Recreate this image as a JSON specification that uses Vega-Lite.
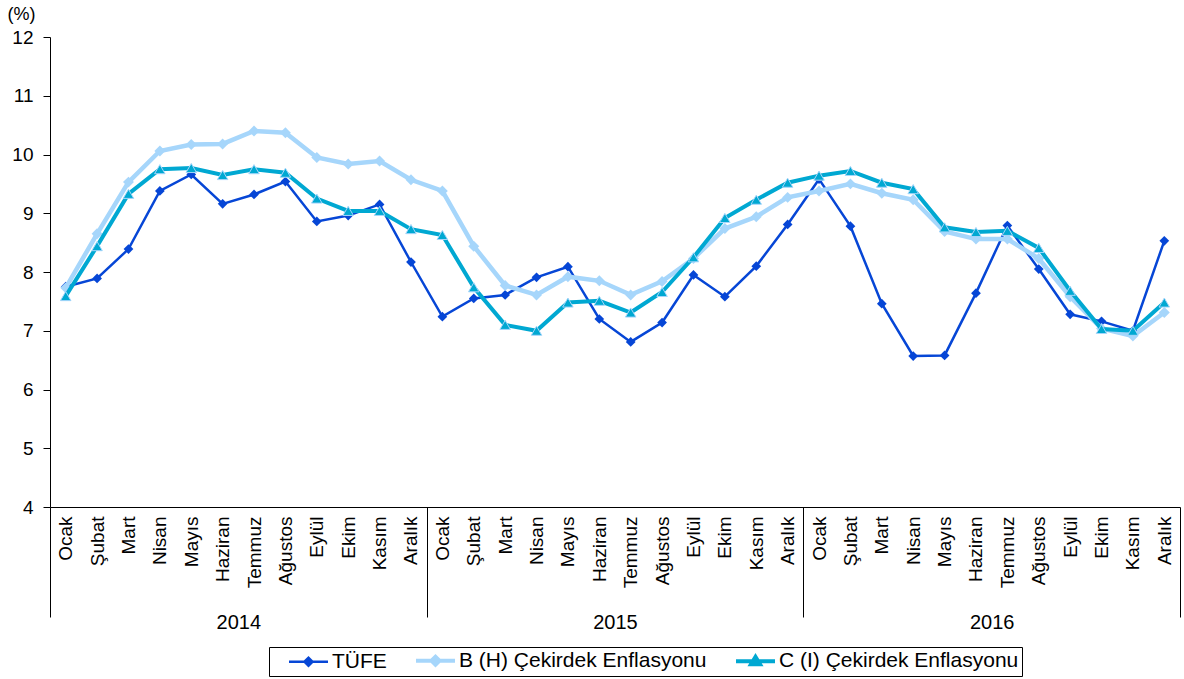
{
  "$schema": "https://vega.github.io/schema/vega-lite/v6.json",
  "width": 1130,
  "height": 470,
  "autosize": {"type": "none"},
  "padding": {"left": 50, "top": 37, "right": 4, "bottom": 172},
  "background": "white",
  "config": {
    "view": {"stroke": null},
    "font": "Liberation Sans",
    "axis": {"labelFont": "Liberation Sans", "titleFont": "Liberation Sans", "labelColor": "black", "titleColor": "black", "domainColor": "black", "tickColor": "black", "grid": false}
  },
  "layer": [
    {
      "data": {
        "values": [
          {"t": "2014-01", "s": "TÜFE", "v": 7.75}, {"t": "2014-02", "s": "TÜFE", "v": 7.89}, {"t": "2014-03", "s": "TÜFE", "v": 8.39}, {"t": "2014-04", "s": "TÜFE", "v": 9.38}, {"t": "2014-05", "s": "TÜFE", "v": 9.66}, {"t": "2014-06", "s": "TÜFE", "v": 9.16}, {"t": "2014-07", "s": "TÜFE", "v": 9.32}, {"t": "2014-08", "s": "TÜFE", "v": 9.54}, {"t": "2014-09", "s": "TÜFE", "v": 8.86}, {"t": "2014-10", "s": "TÜFE", "v": 8.96}, {"t": "2014-11", "s": "TÜFE", "v": 9.15}, {"t": "2014-12", "s": "TÜFE", "v": 8.17},
          {"t": "2015-01", "s": "TÜFE", "v": 7.24}, {"t": "2015-02", "s": "TÜFE", "v": 7.55}, {"t": "2015-03", "s": "TÜFE", "v": 7.61}, {"t": "2015-04", "s": "TÜFE", "v": 7.91}, {"t": "2015-05", "s": "TÜFE", "v": 8.09}, {"t": "2015-06", "s": "TÜFE", "v": 7.20}, {"t": "2015-07", "s": "TÜFE", "v": 6.81}, {"t": "2015-08", "s": "TÜFE", "v": 7.14}, {"t": "2015-09", "s": "TÜFE", "v": 7.95}, {"t": "2015-10", "s": "TÜFE", "v": 7.58}, {"t": "2015-11", "s": "TÜFE", "v": 8.10}, {"t": "2015-12", "s": "TÜFE", "v": 8.81},
          {"t": "2016-01", "s": "TÜFE", "v": 9.58}, {"t": "2016-02", "s": "TÜFE", "v": 8.78}, {"t": "2016-03", "s": "TÜFE", "v": 7.46}, {"t": "2016-04", "s": "TÜFE", "v": 6.57}, {"t": "2016-05", "s": "TÜFE", "v": 6.58}, {"t": "2016-06", "s": "TÜFE", "v": 7.64}, {"t": "2016-07", "s": "TÜFE", "v": 8.79}, {"t": "2016-08", "s": "TÜFE", "v": 8.05}, {"t": "2016-09", "s": "TÜFE", "v": 7.28}, {"t": "2016-10", "s": "TÜFE", "v": 7.16}, {"t": "2016-11", "s": "TÜFE", "v": 7.00}, {"t": "2016-12", "s": "TÜFE", "v": 8.53},
          {"t": "2014-01", "s": "B (H) Çekirdek Enflasyonu", "v": 7.73}, {"t": "2014-02", "s": "B (H) Çekirdek Enflasyonu", "v": 8.65}, {"t": "2014-03", "s": "B (H) Çekirdek Enflasyonu", "v": 9.53}, {"t": "2014-04", "s": "B (H) Çekirdek Enflasyonu", "v": 10.06}, {"t": "2014-05", "s": "B (H) Çekirdek Enflasyonu", "v": 10.17}, {"t": "2014-06", "s": "B (H) Çekirdek Enflasyonu", "v": 10.18}, {"t": "2014-07", "s": "B (H) Çekirdek Enflasyonu", "v": 10.40}, {"t": "2014-08", "s": "B (H) Çekirdek Enflasyonu", "v": 10.37}, {"t": "2014-09", "s": "B (H) Çekirdek Enflasyonu", "v": 9.95}, {"t": "2014-10", "s": "B (H) Çekirdek Enflasyonu", "v": 9.84}, {"t": "2014-11", "s": "B (H) Çekirdek Enflasyonu", "v": 9.89}, {"t": "2014-12", "s": "B (H) Çekirdek Enflasyonu", "v": 9.57},
          {"t": "2015-01", "s": "B (H) Çekirdek Enflasyonu", "v": 9.38}, {"t": "2015-02", "s": "B (H) Çekirdek Enflasyonu", "v": 8.44}, {"t": "2015-03", "s": "B (H) Çekirdek Enflasyonu", "v": 7.77}, {"t": "2015-04", "s": "B (H) Çekirdek Enflasyonu", "v": 7.61}, {"t": "2015-05", "s": "B (H) Çekirdek Enflasyonu", "v": 7.92}, {"t": "2015-06", "s": "B (H) Çekirdek Enflasyonu", "v": 7.85}, {"t": "2015-07", "s": "B (H) Çekirdek Enflasyonu", "v": 7.61}, {"t": "2015-08", "s": "B (H) Çekirdek Enflasyonu", "v": 7.84}, {"t": "2015-09", "s": "B (H) Çekirdek Enflasyonu", "v": 8.23}, {"t": "2015-10", "s": "B (H) Çekirdek Enflasyonu", "v": 8.74}, {"t": "2015-11", "s": "B (H) Çekirdek Enflasyonu", "v": 8.94}, {"t": "2015-12", "s": "B (H) Çekirdek Enflasyonu", "v": 9.27},
          {"t": "2016-01", "s": "B (H) Çekirdek Enflasyonu", "v": 9.38}, {"t": "2016-02", "s": "B (H) Çekirdek Enflasyonu", "v": 9.50}, {"t": "2016-03", "s": "B (H) Çekirdek Enflasyonu", "v": 9.34}, {"t": "2016-04", "s": "B (H) Çekirdek Enflasyonu", "v": 9.23}, {"t": "2016-05", "s": "B (H) Çekirdek Enflasyonu", "v": 8.69}, {"t": "2016-06", "s": "B (H) Çekirdek Enflasyonu", "v": 8.56}, {"t": "2016-07", "s": "B (H) Çekirdek Enflasyonu", "v": 8.56}, {"t": "2016-08", "s": "B (H) Çekirdek Enflasyonu", "v": 8.23}, {"t": "2016-09", "s": "B (H) Çekirdek Enflasyonu", "v": 7.58}, {"t": "2016-10", "s": "B (H) Çekirdek Enflasyonu", "v": 7.04}, {"t": "2016-11", "s": "B (H) Çekirdek Enflasyonu", "v": 6.91}, {"t": "2016-12", "s": "B (H) Çekirdek Enflasyonu", "v": 7.31},
          {"t": "2014-01", "s": "C (I) Çekirdek Enflasyonu", "v": 7.59}, {"t": "2014-02", "s": "C (I) Çekirdek Enflasyonu", "v": 8.44}, {"t": "2014-03", "s": "C (I) Çekirdek Enflasyonu", "v": 9.33}, {"t": "2014-04", "s": "C (I) Çekirdek Enflasyonu", "v": 9.75}, {"t": "2014-05", "s": "C (I) Çekirdek Enflasyonu", "v": 9.77}, {"t": "2014-06", "s": "C (I) Çekirdek Enflasyonu", "v": 9.65}, {"t": "2014-07", "s": "C (I) Çekirdek Enflasyonu", "v": 9.75}, {"t": "2014-08", "s": "C (I) Çekirdek Enflasyonu", "v": 9.69}, {"t": "2014-09", "s": "C (I) Çekirdek Enflasyonu", "v": 9.25}, {"t": "2014-10", "s": "C (I) Çekirdek Enflasyonu", "v": 9.04}, {"t": "2014-11", "s": "C (I) Çekirdek Enflasyonu", "v": 9.04}, {"t": "2014-12", "s": "C (I) Çekirdek Enflasyonu", "v": 8.73},
          {"t": "2015-01", "s": "C (I) Çekirdek Enflasyonu", "v": 8.63}, {"t": "2015-02", "s": "C (I) Çekirdek Enflasyonu", "v": 7.74}, {"t": "2015-03", "s": "C (I) Çekirdek Enflasyonu", "v": 7.10}, {"t": "2015-04", "s": "C (I) Çekirdek Enflasyonu", "v": 7.00}, {"t": "2015-05", "s": "C (I) Çekirdek Enflasyonu", "v": 7.48}, {"t": "2015-06", "s": "C (I) Çekirdek Enflasyonu", "v": 7.51}, {"t": "2015-07", "s": "C (I) Çekirdek Enflasyonu", "v": 7.31}, {"t": "2015-08", "s": "C (I) Çekirdek Enflasyonu", "v": 7.66}, {"t": "2015-09", "s": "C (I) Çekirdek Enflasyonu", "v": 8.25}, {"t": "2015-10", "s": "C (I) Çekirdek Enflasyonu", "v": 8.92}, {"t": "2015-11", "s": "C (I) Çekirdek Enflasyonu", "v": 9.23}, {"t": "2015-12", "s": "C (I) Çekirdek Enflasyonu", "v": 9.52},
          {"t": "2016-01", "s": "C (I) Çekirdek Enflasyonu", "v": 9.64}, {"t": "2016-02", "s": "C (I) Çekirdek Enflasyonu", "v": 9.72}, {"t": "2016-03", "s": "C (I) Çekirdek Enflasyonu", "v": 9.52}, {"t": "2016-04", "s": "C (I) Çekirdek Enflasyonu", "v": 9.41}, {"t": "2016-05", "s": "C (I) Çekirdek Enflasyonu", "v": 8.76}, {"t": "2016-06", "s": "C (I) Çekirdek Enflasyonu", "v": 8.68}, {"t": "2016-07", "s": "C (I) Çekirdek Enflasyonu", "v": 8.70}, {"t": "2016-08", "s": "C (I) Çekirdek Enflasyonu", "v": 8.41}, {"t": "2016-09", "s": "C (I) Çekirdek Enflasyonu", "v": 7.68}, {"t": "2016-10", "s": "C (I) Çekirdek Enflasyonu", "v": 7.03}, {"t": "2016-11", "s": "C (I) Çekirdek Enflasyonu", "v": 7.00}, {"t": "2016-12", "s": "C (I) Çekirdek Enflasyonu", "v": 7.48}
        ]
      },
      "encoding": {
        "x": {
          "field": "t", "type": "ordinal",
          "scale": {"type": "point", "padding": 0.5},
          "axis": {
            "orient": "bottom", "title": null, "ticks": false, "domain": true, "domainColor": "black", "domainWidth": 1,
            "labelAngle": 270, "labelAlign": "right", "labelBaseline": "middle", "labelFontSize": 19, "labelPadding": 9,
            "labelExpr": "['Ocak','Şubat','Mart','Nisan','Mayıs','Haziran','Temmuz','Ağustos','Eylül','Ekim','Kasım','Aralık'][toNumber(substring(datum.value, 5, 7)) - 1]"
          }
        },
        "y": {
          "field": "v", "type": "quantitative",
          "scale": {"domain": [4, 12], "nice": false, "zero": false},
          "axis": {
            "values": [4, 5, 6, 7, 8, 9, 10, 11, 12], "labelFontSize": 19, "tickSize": 7, "labelPadding": 10,
            "title": "(%)", "titleAngle": 0, "titleAlign": "left", "titleBaseline": "middle", "titleFontSize": 18, "titleFontWeight": "normal",
            "titleX": -43, "titleY": -23
          }
        },
        "color": {
          "field": "s", "type": "nominal",
          "scale": {"domain": ["TÜFE", "B (H) Çekirdek Enflasyonu", "C (I) Çekirdek Enflasyonu"], "range": ["#0646d6", "#a6d6fb", "#00a8d2"]},
          "legend": {
            "orient": "none", "legendX": 219, "legendY": 610, "direction": "horizontal", "title": null,
            "strokeColor": "black", "fillColor": "white", "padding": 3,
            "symbolSize": 289, "symbolStrokeWidth": 4, "labelFontSize": 21, "labelFont": "Liberation Sans", "labelColor": "black", "labelOffset": 39, "columnPadding": 4, "labelLimit": 400,
            "labelExpr": "datum.label === 'C (I) Çekirdek Enflasyonu' ? datum.label + '     ' : datum.label",
            "encode": {
              "symbols": {
                "update": {
                  "shape": {"signal": "(datum.value === 'C (I) Çekirdek Enflasyonu' ? 'M-1.235,0M0.765,0H5.353M2.529,0.35L3.059,-0.53L3.589,0.35Z' : 'M-1.235,0M0.765,0H5.353M2.589,0L3.059,-0.47L3.529,0L3.059,0.47Z')"},
                  "fill": {"scale": "color", "field": "value"},
                  "stroke": {"scale": "color", "field": "value"},
                  "strokeWidth": {"signal": "(datum.value === 'TÜFE' ? 2.5 : 4)"},
                  "opacity": {"value": 1},
                  "fillOpacity": {"value": 1}
                }
              }
            }
          }
        }
      },
      "layer": [
        {"transform": [{"filter": "datum.s === 'TÜFE'"}], "mark": {"type": "line", "strokeWidth": 2.5}},
        {"transform": [{"filter": "datum.s === 'TÜFE'"}], "mark": {"type": "point", "shape": "diamond", "filled": true, "size": 95, "opacity": 1}},
        {"transform": [{"filter": "datum.s === 'B (H) Çekirdek Enflasyonu'"}], "mark": {"type": "line", "strokeWidth": 4.5}},
        {"transform": [{"filter": "datum.s === 'B (H) Çekirdek Enflasyonu'"}], "mark": {"type": "point", "shape": "diamond", "filled": true, "size": 120, "opacity": 1}},
        {"transform": [{"filter": "datum.s === 'C (I) Çekirdek Enflasyonu'"}], "mark": {"type": "line", "strokeWidth": 4}},
        {"transform": [{"filter": "datum.s === 'C (I) Çekirdek Enflasyonu'"}], "mark": {"type": "point", "shape": "triangle-up", "filled": true, "size": 110, "opacity": 1, "stroke": "#a6d6fb", "strokeWidth": 1}}
      ]
    },
    {
      "data": {"values": [{"year": "2014"}, {"year": "2015"}, {"year": "2016"}]},
      "mark": {"type": "point", "opacity": 0},
      "encoding": {
        "x": {
          "field": "year", "type": "ordinal",
          "scale": {"type": "band", "paddingInner": 0, "paddingOuter": 0},
          "axis": {
            "orient": "bottom", "title": null, "domain": false, "ticks": true, "tickBand": "extent", "tickSize": 110, "tickColor": "black", "tickWidth": 1,
            "labelAngle": 0, "labelFontSize": 20, "labelPadding": -5, "labelBaseline": "top", "labelAlign": "center"
          }
        }
      }
    }
  ],
  "resolve": {"scale": {"x": "independent"}, "axis": {"x": "independent"}}
}
